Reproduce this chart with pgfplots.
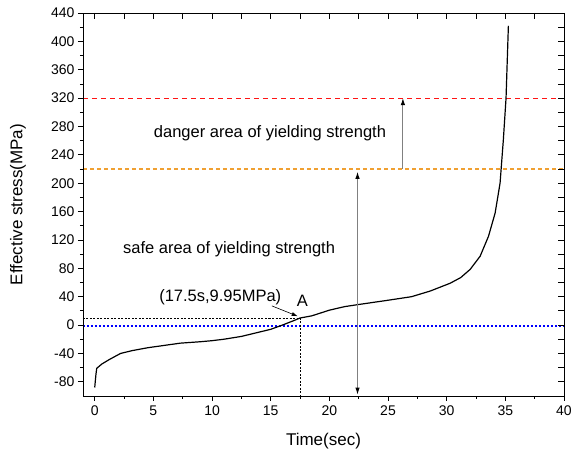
\documentclass[border=0pt]{standalone}
\usepackage{fontspec}
\setmainfont{Liberation Sans}
\usepackage{pgfplots}
\pgfplotsset{compat=1.18}
\usetikzlibrary{arrows.meta}

\definecolor{dangerred}{RGB}{255,20,20}
\definecolor{safeorange}{RGB}{240,160,50}

\pgfplotsset{
  frame/.style={
    scale only axis, width=481pt, height=383pt,
    xmin=-1, xmax=40, ymin=-100, ymax=440,
    xtick={0,5,...,40}, ytick={-80,-40,...,440},
    minor x tick num=1, minor y tick num=1,
    axis line style={line width=0.9pt},
    every tick/.style={black, line width=0.8pt},
    /pgf/number format/assume math mode=true,
  }
}

\begin{document}
\begin{tikzpicture}
\begin{axis}[
    frame,
    tick align=outside, xtick pos=bottom, ytick pos=left,
    major tick length=5pt, minor tick length=3pt,
    ticklabel style={font=\fontsize{14}{16}\selectfont},
    xticklabel style={yshift=-1pt},
    xlabel={Time(sec)}, ylabel={Effective stress(MPa)},
    label style={font=\fontsize{17}{19}\selectfont},
    xlabel style={at={(axis description cs:0.5,-0.1175)}, anchor=center},
    ylabel style={at={(axis description cs:-0.135,0.5)}, anchor=center},
    clip=false,
]

% reference levels
\addplot[color=dangerred, line width=1.2pt, dash pattern=on 5pt off 4pt] coordinates {(-1,320) (40,320)};
\addplot[color=safeorange, line width=1.3pt, dash pattern=on 4pt off 3pt] coordinates {(-1,220) (40,220)};
\addplot[color=blue, line width=1.5pt, dash pattern=on 2pt off 2pt] coordinates {(-1,-1) (40,-1)};

% point A guides
\addplot[color=black, line width=0.5pt, dash pattern=on 2pt off 1.5pt] coordinates {(-1,9.95) (17.5,9.95) (17.5,-100)};

% effective stress curve
\addplot[color=black, line width=1.2pt] coordinates {
  (0,-88) (0.1,-70) (0.17,-61) (0.6,-55) (1.2,-49) (2.2,-40) (3.2,-36)
  (4.5,-32) (6,-28.5) (7.3,-25.5) (9,-23.5) (10,-22) (11,-20) (12.5,-16)
  (14,-10) (15,-6) (16,0) (17,6.5) (17.5,9.95) (18.5,13) (20,21)
  (21.3,26) (22.5,29) (25,35) (27,40) (28.6,48) (30.3,59) (31.2,67)
  (32,78.5) (32.85,97) (33.56,125) (34.13,158) (34.55,200) (34.83,261)
  (35.06,320) (35.26,422)
};

% arrows
\draw[gray, line width=0.9pt, {Latex[black,length=7pt,width=4.5pt]}-{Latex[black,length=7pt,width=4.5pt]}]
  (axis cs:22.4,216) -- (axis cs:22.4,-98);
\draw[gray, line width=0.9pt, -{Latex[black,length=7pt,width=4.5pt]}]
  (axis cs:26.27,220) -- (axis cs:26.27,320);
\draw[black, line width=0.6pt, -{Latex[length=6pt,width=4pt]}]
  (axis cs:15.1,27) -- (axis cs:17.3,12.5);

% labels
\node[font=\fontsize{16.5}{18}\selectfont] at (axis cs:14.94,271) {danger area of yielding strength};
\node[font=\fontsize{16.5}{18}\selectfont] at (axis cs:11.45,107) {safe area of yielding strength};
\node[font=\fontsize{16.5}{18}\selectfont] at (axis cs:10.7,39) {(17.5s,9.95MPa)};
\node[font=\fontsize{16.5}{18}\selectfont] at (axis cs:17.7,34) {A};
\end{axis}

\begin{axis}[
    frame,
    tick align=inside, xtick pos=top, ytick pos=right,
    major tick length=6pt, minor tick length=6pt,
    xticklabels={}, yticklabels={},
]
\end{axis}

\pgfresetboundingbox
\path (-83pt,-58pt) rectangle (488pt,396pt);
\end{tikzpicture}
\end{document}
